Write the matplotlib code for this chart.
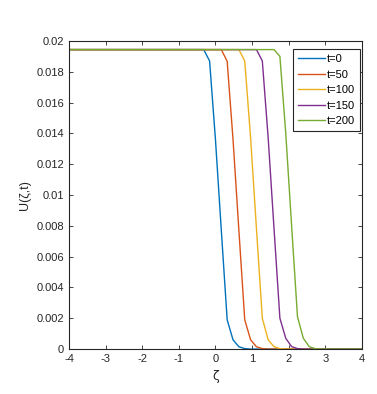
import matplotlib
matplotlib.use("Agg")
import matplotlib.pyplot as plt

# MATLAB default line colours
colors = ["#0072BD", "#D95319", "#EDB120", "#7E2F8E", "#77AC30"]
labels = ["t=0", "t=50", "t=100", "t=150", "t=200"]

# profiles (grid step 0.16, flat outside the front)
x_t0 = [-4, -0.32, -0.16, 0.00, 0.16, 0.32, 0.48, 0.64, 0.80, 0.96, 4]
u_t0 = [0.01944, 0.01944, 0.0187, 0.0136, 0.0077, 0.0019, 0.0006, 0.00015, 0.00003, 0.0, 0.0]

x_t50 = [-4, 0.16, 0.32, 0.48, 0.64, 0.80, 0.96, 1.12, 1.28, 1.44, 4]
u_t50 = [0.01944, 0.01944, 0.01868, 0.0136, 0.0077, 0.0019, 0.0006, 0.00015, 0.00003, 0.0, 0.0]

x_t100 = [-4, 0.64, 0.80, 0.96, 1.12, 1.28, 1.44, 1.60, 1.76, 1.92, 4]
u_t100 = [0.01944, 0.01944, 0.0187, 0.0137, 0.0078, 0.0020, 0.0006, 0.00015, 0.00003, 0.0, 0.0]

x_t150 = [-4, 1.12, 1.28, 1.44, 1.60, 1.76, 1.92, 2.08, 2.24, 2.40, 4]
u_t150 = [0.01944, 0.01944, 0.0187, 0.0137, 0.0078, 0.0020, 0.0007, 0.00016, 0.00003, 0.0, 0.0]

x_t200 = [-4, 1.60, 1.76, 1.92, 2.08, 2.24, 2.40, 2.56, 2.72, 2.88, 4]
u_t200 = [0.01944, 0.01944, 0.0190, 0.0140, 0.0080, 0.0021, 0.0007, 0.00016, 0.00003, 0.0, 0.0]

series = [(x_t0, u_t0), (x_t50, u_t50), (x_t100, u_t100), (x_t150, u_t150), (x_t200, u_t200)]

x_ticks = [-4, -3, -2, -1, 0, 1, 2, 3, 4]
y_ticks = [0, 0.002, 0.004, 0.006, 0.008, 0.01, 0.012, 0.014, 0.016, 0.018, 0.02]
y_ticklabels = ["0", "0.002", "0.004", "0.006", "0.008", "0.01", "0.012", "0.014", "0.016", "0.018", "0.02"]

plt.rcParams["font.family"] = ["Liberation Sans", "DejaVu Sans"]
plt.rcParams["font.size"] = 8

fig = plt.figure(figsize=(3.77, 3.94), dpi=100)
ax = fig.add_axes([0.183, 0.114, 0.777, 0.782])

for (xs, us), c, lab in zip(series, colors, labels):
    ax.plot(xs, us, color=c, lw=1.0, label=lab)

ax.set_xlim(-4, 4)
ax.set_ylim(0, 0.02)
ax.set_xticks(x_ticks)
ax.set_xticklabels([str(v) for v in x_ticks])
ax.set_yticks(y_ticks)
ax.set_yticklabels(y_ticklabels)
ax.tick_params(direction="in", top=True, right=True, length=3, width=0.6,
               color="#262626", labelcolor="#262626", labelsize=8)
for sp in ax.spines.values():
    sp.set_color("#262626")
    sp.set_linewidth(0.8)

ax.set_xlabel("ζ", fontsize=9, family="DejaVu Sans", color="#262626")
ax.set_ylabel("U(ζ,t)", fontsize=9, color="#262626")

leg = ax.legend(loc="upper right", bbox_to_anchor=(0.993, 0.974), borderaxespad=0,
                fontsize=8, handlelength=2.4, handletextpad=0.2,
                borderpad=0.45, labelspacing=0.5, fancybox=False, framealpha=1,
                edgecolor="#262626")
leg.get_frame().set_linewidth(0.8)

fig.savefig("out.png", dpi=100)
